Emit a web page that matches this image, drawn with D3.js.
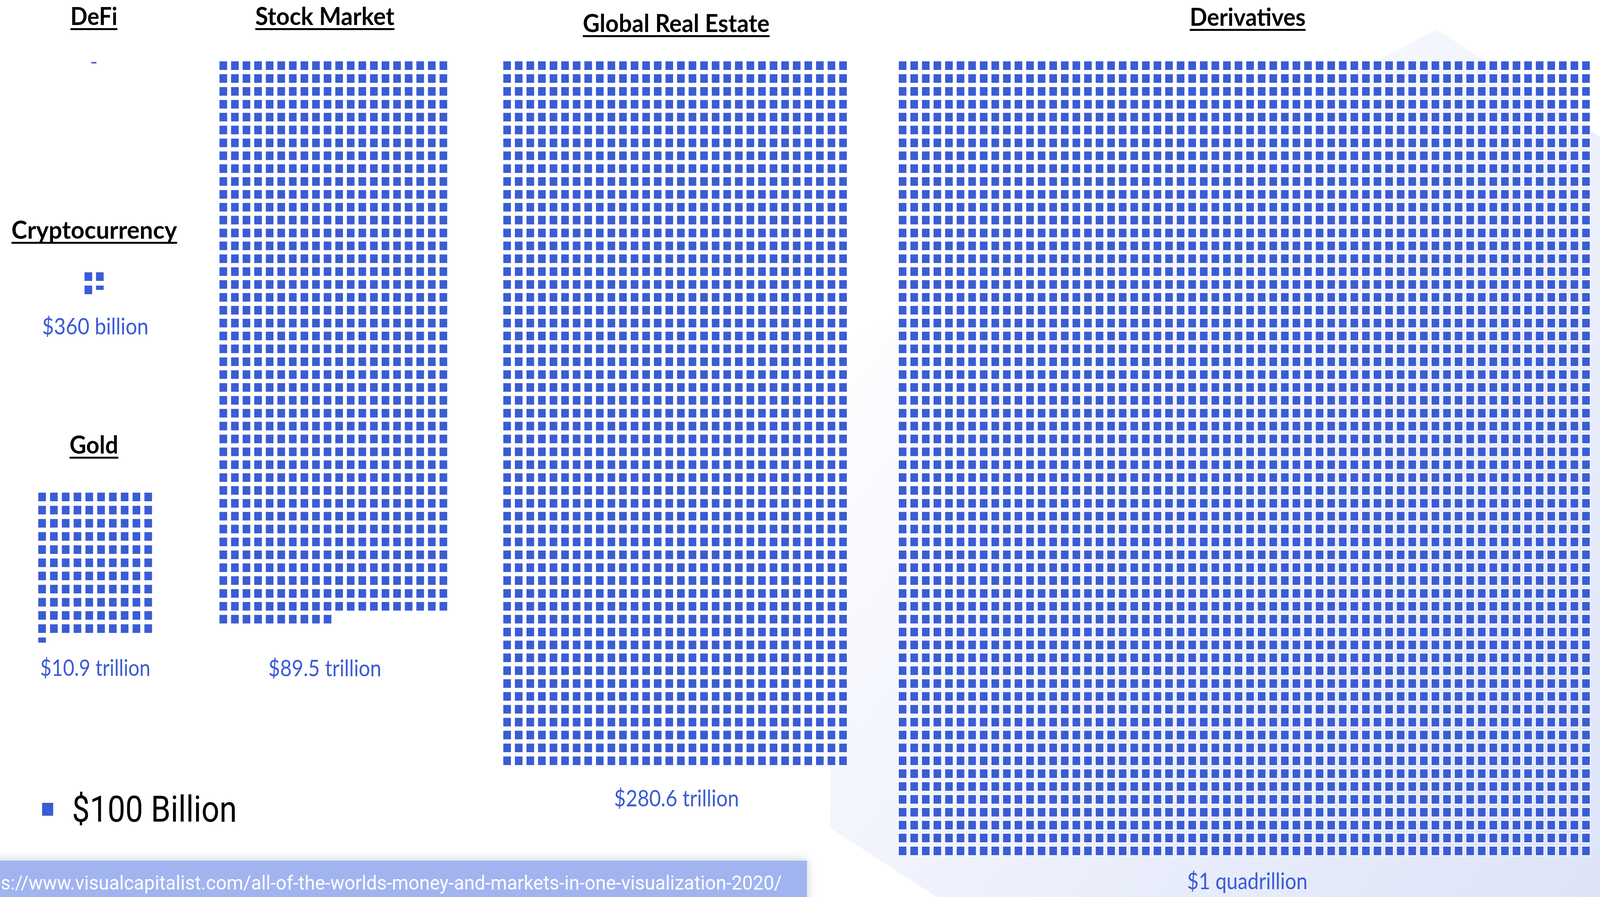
<!DOCTYPE html>
<html>
<head>
<meta charset="utf-8">
<script src="https://cdn.jsdelivr.net/npm/d3@7"></script>
<style>
  html, body { margin: 0; padding: 0; background: #ffffff; overflow: hidden; }
  svg { display: block; }
</style>
</head>
<body>
<div id="chart"></div>
<script>
// ---------------- DATA ----------------
const categories   = ["DeFi", "Cryptocurrency", "Gold", "Stock Market", "Global Real Estate", "Derivatives"];
const valueLabels  = ["", "$360 billion", "$10.9 trillion", "$89.5 trillion", "$280.6 trillion", "$1 quadrillion"];
// number of $100B squares drawn in the picture (fraction = partially drawn last square)
const unitsShown   = [0.26, 3.5, 110.6, 870, 1650, 3720];
const gridColumns  = [1, 2, 10, 20, 30, 60];
const legendLabel  = "$100 Billion";
const sourceText   = "s://www.visualcapitalist.com/all-of-the-worlds-money-and-markets-in-one-visualization-2020/";

// ---------------- LAYOUT ----------------
const W = 4600, H = 2296;
const BLUE = "#3a5cd4";
const layout = [
  { x0: 259,  y0: 155,  px: 33.3, py: 33.0,  size: 22, tx: 270,  ty: 64,   tw: 135, lx: 0,    ly: 0,    lw: 0   },
  { x0: 243,  y0: 697,  px: 33.0, py: 34.0,  size: 22, tx: 271,  ty: 611,  tw: 476, lx: 274,  ly: 856,  lw: 306 },
  { x0: 110,  y0: 1261, px: 33.9, py: 33.7,  size: 22, tx: 270,  ty: 1161, tw: 140, lx: 274,  ly: 1730, lw: 317 },
  { x0: 631,  y0: 157,  px: 33.3, py: 32.95, size: 22, tx: 934,  ty: 64,   tw: 400, lx: 934,  ly: 1731, lw: 325 },
  { x0: 1447, y0: 157,  px: 33.3, py: 32.95, size: 22, tx: 1944, ty: 82,   tw: 537, lx: 1945, ly: 2064, lw: 359 },
  { x0: 2584, y0: 157,  px: 33.3, py: 32.95, size: 22, tx: 3587, ty: 66,   tw: 333, lx: 3586, ly: 2276, lw: 346 }
];

const vw = window.innerWidth || W, vh = window.innerHeight || H;
const svg = d3.select("#chart").append("svg")
  .attr("width", vw).attr("height", vh)
  .attr("viewBox", `0 0 ${W} ${H}`)
  .attr("preserveAspectRatio", "none");

const defs = svg.append("defs");
const grad = defs.append("linearGradient")
  .attr("id", "bgGrad").attr("gradientUnits", "userSpaceOnUse")
  .attr("x1", 2600).attr("y1", 500).attr("x2", 4600).attr("y2", 2296);
grad.append("stop").attr("offset", 0).attr("stop-color", "#ffffff");
grad.append("stop").attr("offset", 0.3).attr("stop-color", "#f5f7fe");
grad.append("stop").attr("offset", 0.6).attr("stop-color", "#eaeefb");
grad.append("stop").attr("offset", 1).attr("stop-color", "#dde4f8");

const shadow = defs.append("filter").attr("id", "shadow")
  .attr("x", "-10%").attr("y", "-60%").attr("width", "120%").attr("height", "220%");
shadow.append("feGaussianBlur").attr("in", "SourceAlpha").attr("stdDeviation", 14).attr("result", "b");
shadow.append("feFlood").attr("flood-color", "#9aa0b0").attr("flood-opacity", 0.55).attr("result", "c");
shadow.append("feComposite").attr("in", "c").attr("in2", "b").attr("operator", "in").attr("result", "s");
const m = shadow.append("feMerge");
m.append("feMergeNode").attr("in", "s");
m.append("feMergeNode").attr("in", "SourceGraphic");

// background isometric shading behind derivatives
svg.append("polygon")
  .attr("points", [[4130, 75], [4600, 350], [4600, H], [2693, H], [2387, 2120], [2387, 900]].map(p => p.join(",")).join(" "))
  .attr("fill", "url(#bgGrad)");

// ---------------- GRIDS ----------------
categories.forEach((cat, k) => {
  const L = layout[k];
  const cols = gridColumns[k];
  const units = unitsShown[k];
  const full = Math.floor(units + 1e-9);
  const frac = +(units - full).toFixed(3);
  const cells = d3.range(full).map(i => ({ col: i % cols, row: Math.floor(i / cols), h: 1 }));
  if (frac > 0) cells.push({ col: full % cols, row: Math.floor(full / cols), h: frac });
  const nRows = d3.max(cells, d => d.row) + 1;
  const pX = 1 - L.size / L.px, pY = 1 - L.size / L.py;
  const x = d3.scaleBand().domain(d3.range(cols))
    .range([L.x0, L.x0 + L.px * (cols - pX)]).paddingInner(pX).paddingOuter(0);
  const y = d3.scaleBand().domain(d3.range(nRows))
    .range([L.y0, L.y0 + L.py * (nRows - pY)]).paddingInner(pY).paddingOuter(0);

  const g = svg.append("g").attr("class", "grid");
  g.selectAll("rect").data(cells).join("rect")
    .attr("x", d => x(d.col))
    .attr("y", d => y(d.row))
    .attr("width", x.bandwidth())
    .attr("height", d => y.bandwidth() * d.h)
    .attr("fill", BLUE)
    .attr("stroke", "#ffffff")
    .attr("stroke-width", 4)
    .attr("paint-order", "stroke");

  // title
  svg.append("text")
    .attr("x", L.tx).attr("y", L.ty)
    .attr("text-anchor", "middle")
    .attr("font-family", "Lato, 'Open Sans', sans-serif")
    .attr("font-weight", 700)
    .attr("font-size", 64)
    .attr("fill", "#000")
    .attr("textLength", L.tw).attr("lengthAdjust", "spacingAndGlyphs")
    .text(cat);
  svg.append("rect")
    .attr("x", L.tx - L.tw / 2).attr("y", L.ty + 8)
    .attr("width", L.tw).attr("height", 5)
    .attr("fill", "#000");

  // value label
  if (valueLabels[k]) {
    svg.append("text")
      .attr("x", L.lx).attr("y", L.ly)
      .attr("text-anchor", "middle")
      .attr("font-family", "Lato, 'Open Sans', sans-serif")
      .attr("font-weight", 400)
      .attr("font-size", 58)
      .attr("fill", "#3a5bd6")
      .attr("textLength", L.lw).attr("lengthAdjust", "spacingAndGlyphs")
      .text(valueLabels[k]);
  }
});

// ---------------- LEGEND ----------------
svg.append("rect").attr("x", 121).attr("y", 2055).attr("width", 32).attr("height", 33).attr("fill", BLUE);
svg.append("text")
  .attr("x", 207).attr("y", 2103)
  .attr("font-family", "Roboto, 'Liberation Sans', sans-serif")
  .attr("font-size", 92)
  .attr("fill", "#000")
  .attr("textLength", 474).attr("lengthAdjust", "spacingAndGlyphs")
  .text(legendLabel);

// ---------------- SOURCE BAR ----------------
svg.append("rect")
  .attr("x", -40).attr("y", 2203).attr("width", 2360).attr("height", 140)
  .attr("fill", "#a1b4f0")
  .attr("filter", "url(#shadow)");
svg.append("text")
  .attr("x", 2).attr("y", 2277)
  .attr("font-family", "Roboto, 'Liberation Sans', sans-serif")
  .attr("font-size", 50)
  .attr("fill", "#ffffff")
  .attr("textLength", 2246).attr("lengthAdjust", "spacingAndGlyphs")
  .text(sourceText);
</script>
</body>
</html>
